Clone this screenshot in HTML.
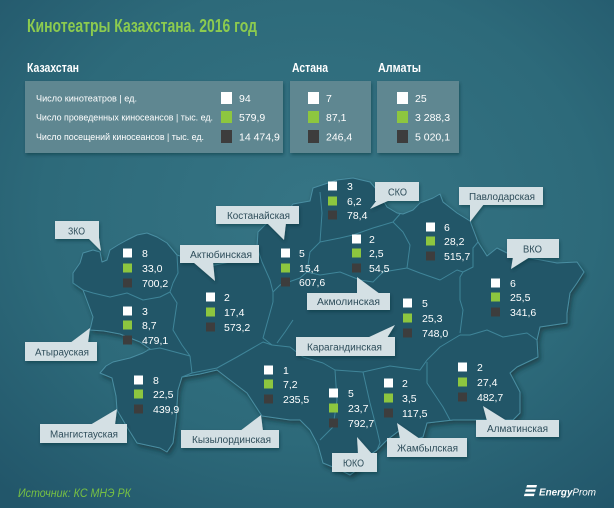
<!DOCTYPE html>
<html><head><meta charset="utf-8"><style>
html,body{margin:0;padding:0;background:#2b6676;}
svg{display:block;}
text{font-family:"Liberation Sans","DejaVu Sans",sans-serif;}
</style></head><body>
<svg width="614" height="508" viewBox="0 0 614 508" xmlns="http://www.w3.org/2000/svg">
<defs>
<radialGradient id="bg" cx="0.52" cy="0.42" r="0.75">
<stop offset="0" stop-color="#367585"/>
<stop offset="0.6" stop-color="#2d6a7a"/>
<stop offset="1" stop-color="#22566a"/>
</radialGradient>
<filter id="sh" x="-10%" y="-10%" width="120%" height="130%">
<feDropShadow dx="2" dy="3" stdDeviation="2.5" flood-color="#0b2a35" flood-opacity="0.6"/>
</filter>
<filter id="sh2" x="-10%" y="-10%" width="130%" height="140%">
<feDropShadow dx="1" dy="2" stdDeviation="1.5" flood-color="#0b2a35" flood-opacity="0.45"/>
</filter>
</defs>
<rect width="614" height="508" fill="url(#bg)"/>

<!-- Title -->
<text x="27" y="32" font-size="18" font-weight="bold" fill="#8ccb4f" textLength="230" lengthAdjust="spacingAndGlyphs">Кинотеатры Казахстана. 2016 год</text>

<!-- Headers -->
<text x="27" y="72" font-size="13" font-weight="bold" fill="#ffffff" textLength="52" lengthAdjust="spacingAndGlyphs">Казахстан</text>
<text x="292" y="72" font-size="13" font-weight="bold" fill="#ffffff" textLength="36" lengthAdjust="spacingAndGlyphs">Астана</text>
<text x="378" y="72" font-size="13" font-weight="bold" fill="#ffffff" textLength="43" lengthAdjust="spacingAndGlyphs">Алматы</text>

<!-- Panels -->
<g filter="url(#sh2)">
<rect x="25" y="81" width="258" height="72" fill="#5e8791"/>
<rect x="290" y="81" width="81" height="72" fill="#5e8791"/>
<rect x="377" y="81" width="82" height="72" fill="#5e8791"/>
</g>
<g font-size="9" fill="#ffffff">
<text x="36" y="101.5" textLength="101" lengthAdjust="spacingAndGlyphs">Число кинотеатров | ед.</text>
<text x="36" y="120.5" textLength="177" lengthAdjust="spacingAndGlyphs">Число проведенных киносеансов | тыс. ед.</text>
<text x="36" y="140" textLength="168" lengthAdjust="spacingAndGlyphs">Число посещений киносеансов | тыс. ед.</text>
</g>
<g>
<rect x="221" y="92" width="11" height="12" fill="#ffffff"/>
<rect x="221" y="111" width="11" height="12" fill="#8dc63f"/>
<rect x="221" y="130" width="11" height="13" fill="#3d3d3d"/>
<rect x="308" y="92" width="11" height="12" fill="#ffffff"/>
<rect x="308" y="111" width="11" height="12" fill="#8dc63f"/>
<rect x="308" y="130" width="11" height="13" fill="#3d3d3d"/>
<rect x="397" y="92" width="11" height="12" fill="#ffffff"/>
<rect x="397" y="111" width="11" height="12" fill="#8dc63f"/>
<rect x="397" y="130" width="11" height="13" fill="#3d3d3d"/>
</g>
<g font-size="10.5" fill="#ffffff">
<text x="239" y="102">94</text>
<text x="239" y="121">579,9</text>
<text x="239" y="140.5">14 474,9</text>
<text x="326" y="102">7</text>
<text x="326" y="121">87,1</text>
<text x="326" y="140.5">246,4</text>
<text x="415" y="102">25</text>
<text x="415" y="121">3 288,3</text>
<text x="415" y="140.5">5 020,1</text>
</g>

<!-- Map -->
<path filter="url(#sh)" fill="#215668" stroke="#4a8ea2" stroke-width="1" stroke-linejoin="round" d="M80,263 L83,253 L93,250 L100,252 L102,262 L107,260 L110,250 L118,245 L127,240 L137,235 L147,233 L157,237 L167,243 L177,255 L193,260 L210,266 L230,262 L247,257 L257,247 L258,232 L267,223 L277,226 L293,204 L310,201 L313,188 L337,180 L353,178 L370,182 L377,190 L387,207 L397,213 L403,214 L413,210 L420,203 L433,198 L440,194 L443,202 L457,213 L470,221 L478,242 L487,256 L497,248 L507,253 L530,258 L557,263 L577,262 L584,272 L577,283 L570,293 L567,313 L567,323 L540,327 L537,340 L538,357 L517,367 L510,373 L520,392 L520,413 L513,420 L467,420 L453,420 L427,423 L423,437 L413,440 L400,430 L387,440 L377,450 L367,457 L357,470 L350,475 L340,470 L323,463 L318,445 L310,430 L300,420 L290,420 L262,416 L247,393 L230,380 L217,370 L200,374 L182,377 L178,390 L176,420 L173,443 L167,452 L160,448 L137,443 L127,427 L117,410 L116,396 L112,378 L100,373 L106,366 L113,362 L130,358 L143,353 L150,349 L140,342 L120,334 L104,331 L90,330 L93,317 L83,290 L73,283 L73,273 Z"/>
<g fill="none" stroke="#3f8599" stroke-width="1" stroke-linejoin="round">
<polyline points="73,283 83,290 93,293 110,297 127,293 143,300 160,297 170,292"/>
<polyline points="177,255 178,273 173,283 170,292"/>
<polyline points="170,292 177,303 173,330 182,345 190,356"/>
<polyline points="147,350 160,348 175,352 190,356"/>
<polyline points="190,356 192,373 182,377"/>
<polyline points="192,373 217,368 237,357 263,342 272,345"/>
<polyline points="257,247 262,262 270,280 273,292 273,302"/>
<polyline points="273,302 268,320 263,338 272,345"/>
<polyline points="272,345 290,347 303,357 323,363 335,370"/>
<polyline points="277,343 285,332 293,320"/>
<polyline points="320,192 322,213 320,242"/>
<polyline points="320,242 310,252 307,272 300,278 280,285 273,292"/>
<polyline points="320,242 340,238 353,235 373,228 393,222"/>
<polyline points="393,222 400,214"/>
<polyline points="393,222 403,232 410,245 407,268"/>
<polyline points="307,272 320,275 340,272 360,280 373,282 383,272 407,268"/>
<polyline points="407,268 420,273 440,280 457,270 463,272"/>
<polyline points="478,242 473,248 473,267 463,272"/>
<polyline points="463,272 460,277 460,300 463,310 460,333"/>
<polyline points="460,335 470,335 487,330 503,337 527,333 537,340"/>
<polyline points="460,335 440,347 427,360"/>
<polyline points="427,360 420,370 390,366 363,372"/>
<polyline points="363,372 335,370"/>
<polyline points="335,370 337,400 333,427 320,440"/>
<polyline points="363,372 370,403 377,430 380,443 377,450"/>
<polyline points="427,362 427,383 443,407 450,420"/>
</g>

<!-- Callouts -->
<g fill="#d4e0e4" filter="url(#sh2)">
<rect x="55" y="221" width="44" height="18"/><polygon points="88,238 99,238 101,251"/>
<rect x="216" y="206" width="83" height="18"/><polygon points="267,223 286,223 284,240"/>
<rect x="180" y="245" width="79" height="18"/><polygon points="193,262 213,262 215,281"/>
<rect x="25" y="342" width="72" height="19"/><polygon points="70,343 88,343 90,328"/>
<rect x="40" y="424" width="87" height="19"/><polygon points="90,425 115,425 117,409"/>
<rect x="181" y="430" width="98" height="18"/><polygon points="240,431 263,431 261,415"/>
<rect x="375" y="182" width="44" height="19"/><polygon points="377,200 390,200 370,209"/>
<rect x="459" y="187" width="84" height="18"/><polygon points="470,204 484,204 470,222"/>
<rect x="507" y="239" width="52" height="19"/><polygon points="513,257 530,257 511,269"/>
<rect x="307" y="293" width="83" height="17"/><polygon points="357,294 380,294 357,277"/>
<rect x="296" y="337" width="99" height="19"/><polygon points="367,338 387,338 395,325"/>
<rect x="332" y="453" width="45" height="19"/><polygon points="358,454 372,454 357,437"/>
<rect x="387" y="438" width="80" height="19"/><polygon points="400,439 420,439 397,423"/>
<rect x="476" y="420" width="83" height="17"/><polygon points="487,421 507,421 483,406"/>
</g>
<g font-size="10" fill="#2e4d5a">
<text x="68" y="234.5" textLength="17" lengthAdjust="spacingAndGlyphs">ЗКО</text>
<text x="227" y="219" textLength="63" lengthAdjust="spacingAndGlyphs">Костанайская</text>
<text x="190" y="258" textLength="62" lengthAdjust="spacingAndGlyphs">Актюбинская</text>
<text x="35" y="355.5" textLength="54" lengthAdjust="spacingAndGlyphs">Атырауская</text>
<text x="50" y="437.5" textLength="68" lengthAdjust="spacingAndGlyphs">Мангистауская</text>
<text x="192" y="443" textLength="79" lengthAdjust="spacingAndGlyphs">Кызылординская</text>
<text x="388" y="195.5" textLength="19" lengthAdjust="spacingAndGlyphs">СКО</text>
<text x="469" y="200" textLength="66" lengthAdjust="spacingAndGlyphs">Павлодарская</text>
<text x="523" y="252.5" textLength="19" lengthAdjust="spacingAndGlyphs">ВКО</text>
<text x="317" y="305" textLength="63" lengthAdjust="spacingAndGlyphs">Акмолинская</text>
<text x="307" y="350.5" textLength="75" lengthAdjust="spacingAndGlyphs">Карагандинская</text>
<text x="343" y="466.5" textLength="21" lengthAdjust="spacingAndGlyphs">ЮКО</text>
<text x="397" y="451.5" textLength="61" lengthAdjust="spacingAndGlyphs">Жамбылская</text>
<text x="487" y="432" textLength="61" lengthAdjust="spacingAndGlyphs">Алматинская</text>
</g>

<!-- Map data: squares -->
<g>
<!-- ZKO -->
<rect x="123" y="248.5" width="9" height="9" fill="#fff"/><rect x="123" y="263.5" width="9" height="9" fill="#8dc63f"/><rect x="123" y="278.5" width="9" height="9" fill="#3d3d3d"/>
<!-- Atyrau -->
<rect x="123" y="306.5" width="9" height="9" fill="#fff"/><rect x="123" y="320.5" width="9" height="9" fill="#8dc63f"/><rect x="123" y="335.5" width="9" height="9" fill="#3d3d3d"/>
<!-- Aktobe -->
<rect x="206" y="292.5" width="9" height="9" fill="#fff"/><rect x="206" y="307.5" width="9" height="9" fill="#8dc63f"/><rect x="206" y="322.5" width="9" height="9" fill="#3d3d3d"/>
<!-- Kostanay -->
<rect x="281" y="248.5" width="9" height="9" fill="#fff"/><rect x="281" y="263.5" width="9" height="9" fill="#8dc63f"/><rect x="281" y="277.5" width="9" height="9" fill="#3d3d3d"/>
<!-- SKO -->
<rect x="328" y="181.5" width="9" height="9" fill="#fff"/><rect x="328" y="196.5" width="9" height="9" fill="#8dc63f"/><rect x="328" y="210.5" width="9" height="9" fill="#3d3d3d"/>
<!-- Akmola -->
<rect x="352" y="234.5" width="9" height="9" fill="#fff"/><rect x="352" y="248.5" width="9" height="9" fill="#8dc63f"/><rect x="352" y="263.5" width="9" height="9" fill="#3d3d3d"/>
<!-- Pavlodar -->
<rect x="426" y="222.5" width="9" height="9" fill="#fff"/><rect x="426" y="236.5" width="9" height="9" fill="#8dc63f"/><rect x="426" y="251.5" width="9" height="9" fill="#3d3d3d"/>
<!-- VKO -->
<rect x="491" y="278.5" width="9" height="9" fill="#fff"/><rect x="491" y="292.5" width="9" height="9" fill="#8dc63f"/><rect x="491" y="307.5" width="9" height="9" fill="#3d3d3d"/>
<!-- Karaganda -->
<rect x="403" y="298.5" width="9" height="9" fill="#fff"/><rect x="403" y="313.5" width="9" height="9" fill="#8dc63f"/><rect x="403" y="328.5" width="9" height="9" fill="#3d3d3d"/>
<!-- Mangistau -->
<rect x="134" y="375.5" width="9" height="9" fill="#fff"/><rect x="134" y="389.5" width="9" height="9" fill="#8dc63f"/><rect x="134" y="404.5" width="9" height="9" fill="#3d3d3d"/>
<!-- Kyzylorda -->
<rect x="264" y="365.5" width="9" height="9" fill="#fff"/><rect x="264" y="379.5" width="9" height="9" fill="#8dc63f"/><rect x="264" y="394.5" width="9" height="9" fill="#3d3d3d"/>
<!-- YUKO -->
<rect x="329" y="388.5" width="9" height="9" fill="#fff"/><rect x="329" y="403.5" width="9" height="9" fill="#8dc63f"/><rect x="329" y="418.5" width="9" height="9" fill="#3d3d3d"/>
<!-- Zhambyl -->
<rect x="384" y="378.5" width="9" height="9" fill="#fff"/><rect x="384" y="393.5" width="9" height="9" fill="#8dc63f"/><rect x="384" y="408.5" width="9" height="9" fill="#3d3d3d"/>
<!-- Almaty -->
<rect x="458" y="362.5" width="9" height="9" fill="#fff"/><rect x="458" y="377.5" width="9" height="9" fill="#8dc63f"/><rect x="458" y="392.5" width="9" height="9" fill="#3d3d3d"/>
</g>

<!-- Map data: numbers -->
<g font-size="10.5" fill="#ffffff">
<text x="142" y="257">8</text><text x="142" y="272">33,0</text><text x="142" y="287">700,2</text>
<text x="142" y="315">3</text><text x="142" y="329">8,7</text><text x="142" y="344">479,1</text>
<text x="224" y="301">2</text><text x="224" y="316">17,4</text><text x="224" y="331">573,2</text>
<text x="299" y="257">5</text><text x="299" y="272">15,4</text><text x="299" y="286">607,6</text>
<text x="347" y="190">3</text><text x="347" y="205">6,2</text><text x="347" y="219">78,4</text>
<text x="369" y="243">2</text><text x="369" y="257">2,5</text><text x="369" y="272">54,5</text>
<text x="444" y="231">6</text><text x="444" y="245">28,2</text><text x="444" y="260">515,7</text>
<text x="510" y="287">6</text><text x="510" y="301">25,5</text><text x="510" y="316">341,6</text>
<text x="422" y="307">5</text><text x="422" y="322">25,3</text><text x="422" y="337">748,0</text>
<text x="153" y="384">8</text><text x="153" y="398">22,5</text><text x="153" y="413">439,9</text>
<text x="283" y="374">1</text><text x="283" y="388">7,2</text><text x="283" y="403">235,5</text>
<text x="348" y="397">5</text><text x="348" y="412">23,7</text><text x="348" y="427">792,7</text>
<text x="402" y="387">2</text><text x="402" y="402">3,5</text><text x="402" y="417">117,5</text>
<text x="477" y="371">2</text><text x="477" y="386">27,4</text><text x="477" y="401">482,7</text>
</g>

<!-- Source -->
<text x="18" y="497" font-size="11.5" font-style="italic" fill="#77c043" textLength="113" lengthAdjust="spacingAndGlyphs">Источник: КС МНЭ РК</text>

<!-- Logo -->
<g fill="#ffffff">
<polygon points="527,485 537,485 536.3,487.5 526.3,487.5"/>
<polygon points="525.8,489.3 535.8,489.3 535.1,491.8 525.1,491.8"/>
<polygon points="524.6,493.6 534.6,493.6 533.9,496.1 523.9,496.1"/>
</g>
<text x="539" y="495.5" font-size="10.5" font-style="italic" fill="#ffffff" textLength="57" lengthAdjust="spacingAndGlyphs"><tspan font-weight="bold">Energy</tspan>Prom</text>
</svg>
</body></html>
